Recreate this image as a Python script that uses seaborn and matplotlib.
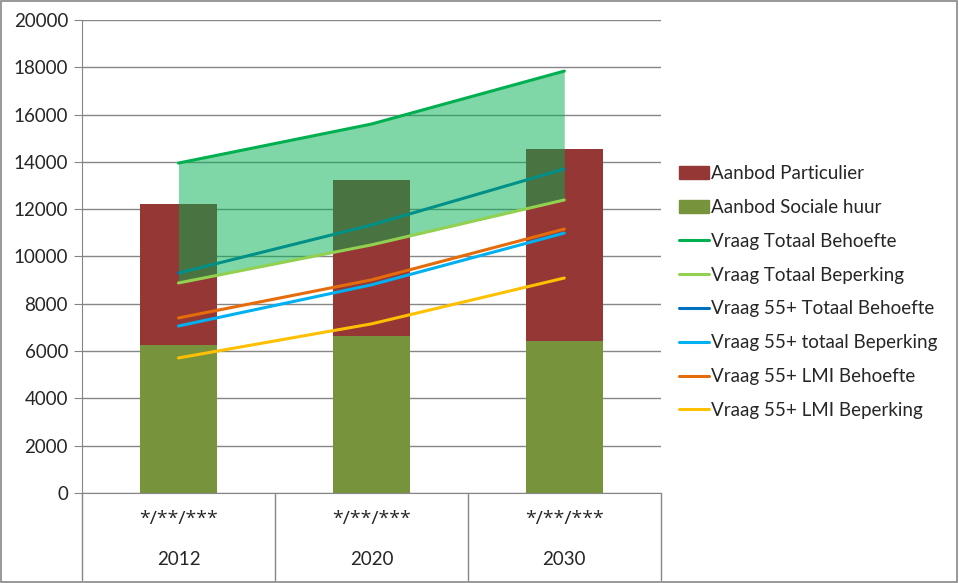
import numpy as np
import pandas as pd
import matplotlib.pyplot as plt
import seaborn as sns
from matplotlib.patches import Patch, Rectangle
from matplotlib.lines import Line2D

# data
jaren = ['2012', '2020', '2030']
subtitel = ['*/**/***', '*/**/***', '*/**/***']
aanbod_sociaal = [6260, 6640, 6430]
aanbod_particulier = [5960, 6590, 8120]
vraag_totaal_behoefte = [13950, 15600, 17840]
vraag_totaal_beperking = [8880, 10490, 12390]
vraag_55_totaal_behoefte = [9300, 11330, 13700]
vraag_55_totaal_beperking = [7060, 8800, 10990]
vraag_55_lmi_behoefte = [7400, 9010, 11160]
vraag_55_lmi_beperking = [5710, 7150, 9090]

kleur_part = '#953735'
kleur_soc = '#77933C'
lijnen = [
    ('Vraag Totaal Behoefte', vraag_totaal_behoefte, '#00B050'),
    ('Vraag Totaal Beperking', vraag_totaal_beperking, '#92D050'),
    ('Vraag 55+ Totaal Behoefte', vraag_55_totaal_behoefte, '#0070C0'),
    ('Vraag 55+ totaal Beperking', vraag_55_totaal_beperking, '#00B0F0'),
    ('Vraag 55+ LMI Behoefte', vraag_55_lmi_behoefte, '#E46C0A'),
    ('Vraag 55+ LMI Beperking', vraag_55_lmi_beperking, '#FFC000'),
]

sns.set_style('white')
plt.rcParams['font.family'] = ['Lato', 'DejaVu Sans']

df = pd.DataFrame({'jaar': jaren,
                   'totaal': np.array(aanbod_sociaal) + np.array(aanbod_particulier),
                   'sociaal': aanbod_sociaal})

fig = plt.figure(figsize=(9.59, 5.83), dpi=100)
ax = fig.add_axes([0.0855, 0.1544, 0.6035, 0.8113])

sns.barplot(data=df, x='jaar', y='totaal', color=kleur_part, width=0.4,
            saturation=1, linewidth=0, ax=ax, zorder=2)
sns.barplot(data=df, x='jaar', y='sociaal', color=kleur_soc, width=0.4,
            saturation=1, linewidth=0, ax=ax, zorder=2)

xpos = np.arange(len(jaren))
for naam, waarden, kleur in lijnen[2:]:
    sns.lineplot(x=xpos, y=waarden, color=kleur, linewidth=2.2, ax=ax, zorder=3)

# gevulde band tussen totaal behoefte en beperking
ax.fill_between(xpos, vraag_totaal_beperking, vraag_totaal_behoefte,
                color='#00B050', alpha=0.5, linewidth=0, zorder=4)
for naam, waarden, kleur in lijnen[:2]:
    sns.lineplot(x=xpos, y=waarden, color=kleur, linewidth=2.2, ax=ax, zorder=5)

ax.set_xlim(-0.5, 2.5)
ax.set_ylim(0, 20000)
ax.set_yticks(range(0, 20001, 2000))
ax.yaxis.grid(True, color='#868686', linewidth=1)
ax.set_axisbelow(True)
ax.tick_params(axis='y', labelsize=13.5, length=6, color='#868686', left=True, pad=4)
ax.set_xticks([])
ax.set_xlabel('')
ax.set_ylabel('')
for s in ['top', 'right']:
    ax.spines[s].set_visible(False)
for s in ['left', 'bottom']:
    ax.spines[s].set_color('#868686')

# twee niveaus op de x-as
for i, (sub, jaar) in enumerate(zip(subtitel, jaren)):
    ax.text(i, -0.055, sub, transform=ax.get_xaxis_transform(), ha='center', va='center',
            fontsize=14, family=['Open Sans', 'DejaVu Sans'])
    ax.text(i, -0.14, jaar, transform=ax.get_xaxis_transform(), ha='center', va='center', fontsize=13.5)
for xb in [-0.5, 0.5, 1.5, 2.5]:
    ax.plot([xb, xb], [0, -0.185], transform=ax.get_xaxis_transform(), color='#868686',
            linewidth=1, clip_on=False)

handles = [Patch(color=kleur_part, label='Aanbod Particulier'),
           Patch(color=kleur_soc, label='Aanbod Sociale huur')]
handles += [Line2D([], [], color=k, linewidth=2.2, label=n) for n, w, k in lijnen]
fig.legend(handles=handles, loc='upper left', bbox_to_anchor=(0.7, 0.73), frameon=False,
           fontsize=13.5, handlelength=1.6, handletextpad=0.1, labelspacing=0.9,
           borderaxespad=0)

fig.patches.append(Rectangle((0.001, 0.001), 0.997, 0.997, transform=fig.transFigure,
                             fill=False, edgecolor='#868686', linewidth=1.2))

plt.savefig('out.png', dpi=100)
